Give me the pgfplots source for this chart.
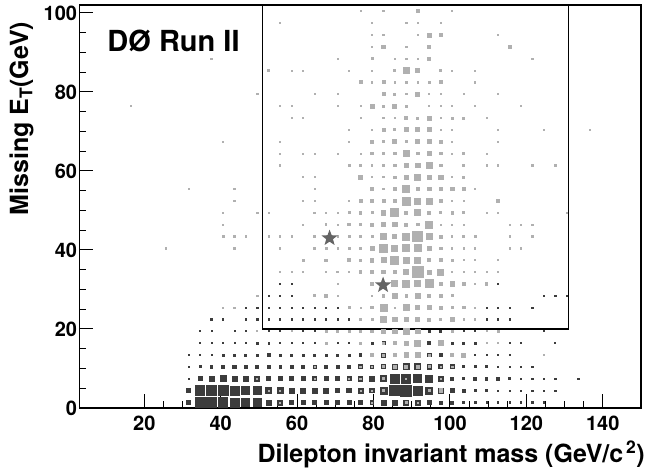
\documentclass[border=0pt]{standalone}
\usepackage{fontspec}
\setmainfont{TeX Gyre Heros}
\usepackage{pgfplots}
\usepackage{pgfplotstable}
\pgfplotsset{compat=1.18}

\definecolor{dk}{RGB}{60,60,60}
\definecolor{lt}{RGB}{176,176,176}
\definecolor{st}{RGB}{100,100,100}

% filled five-point star
\pgfdeclareplotmark{fstar}{%
  \pgfpathmoveto{\pgfpointpolar{90}{\pgfplotmarksize}}%
  \pgfpathlineto{\pgfpointpolar{126}{0.42\pgfplotmarksize}}%
  \pgfpathlineto{\pgfpointpolar{162}{\pgfplotmarksize}}%
  \pgfpathlineto{\pgfpointpolar{198}{0.42\pgfplotmarksize}}%
  \pgfpathlineto{\pgfpointpolar{234}{\pgfplotmarksize}}%
  \pgfpathlineto{\pgfpointpolar{270}{0.42\pgfplotmarksize}}%
  \pgfpathlineto{\pgfpointpolar{306}{\pgfplotmarksize}}%
  \pgfpathlineto{\pgfpointpolar{342}{0.42\pgfplotmarksize}}%
  \pgfpathlineto{\pgfpointpolar{18}{\pgfplotmarksize}}%
  \pgfpathlineto{\pgfpointpolar{54}{0.42\pgfplotmarksize}}%
  \pgfpathclose\pgfusepathqfill}

% black histogram: bin centre x, y and box side s
\pgfplotstableread{
x y s
31.5 1.5 4.5
34.5 1.5 10
37.5 1.5 10
40.5 1.5 9.5
43.5 1.5 9
46.5 1.5 8
49.5 1.5 8
52.5 1.5 5
55.5 1.5 5
58.5 1.5 4
61.5 1.5 4
64.5 1.5 4.5
67.5 1.5 4
70.5 1.5 3.5
73.5 1.5 4
76.5 1.5 4
79.5 1.5 3.5
82.5 1.5 5
85.5 1.5 5
88.5 1.5 5
91.5 1.5 5
94.5 1.5 4.5
97.5 1.5 3
100.5 1.5 3
103.5 1.5 2
106.5 1.5 2
109.5 1.5 1.2
112.5 1.5 1.2
115.5 1.5 1.2
118.5 1.5 1.2
121.5 1.5 1.2
124.5 1.5 1.2
31.5 4.5 4
34.5 4.5 9.5
37.5 4.5 10
40.5 4.5 10
43.5 4.5 9
46.5 4.5 8
49.5 4.5 7.5
52.5 4.5 6
55.5 4.5 5.5
58.5 4.5 5
61.5 4.5 5
64.5 4.5 5
67.5 4.5 5
70.5 4.5 4.5
73.5 4.5 4.5
76.5 4.5 5
79.5 4.5 4.5
82.5 4.5 7
85.5 4.5 10
88.5 4.5 11
91.5 4.5 9
94.5 4.5 7
97.5 4.5 5
100.5 4.5 3.5
103.5 4.5 3
106.5 4.5 2
109.5 4.5 2
112.5 4.5 1.2
115.5 4.5 1.2
118.5 4.5 1.2
121.5 4.5 1.2
124.5 4.5 1.2
127.5 4.5 1.2
31.5 7.5 1.2
34.5 7.5 4
37.5 7.5 5
40.5 7.5 6
43.5 7.5 5
46.5 7.5 5
49.5 7.5 5
52.5 7.5 4
55.5 7.5 4
58.5 7.5 4
61.5 7.5 4
64.5 7.5 4
67.5 7.5 4
70.5 7.5 4
73.5 7.5 4
76.5 7.5 4.5
79.5 7.5 5.5
82.5 7.5 6
85.5 7.5 9
88.5 7.5 9
91.5 7.5 8
94.5 7.5 7
97.5 7.5 5
100.5 7.5 3
103.5 7.5 2
106.5 7.5 2.5
109.5 7.5 2.5
112.5 7.5 2.5
115.5 7.5 2
118.5 7.5 1.2
121.5 7.5 1.2
124.5 7.5 1.2
127.5 7.5 1.2
133.5 7.5 1.2
31.5 10.5 1.2
34.5 10.5 2
37.5 10.5 2.5
40.5 10.5 3
43.5 10.5 3.5
46.5 10.5 3
49.5 10.5 3
52.5 10.5 3
55.5 10.5 2.5
58.5 10.5 2.5
61.5 10.5 3
64.5 10.5 3
67.5 10.5 3
70.5 10.5 3
73.5 10.5 3
76.5 10.5 4
79.5 10.5 3.5
82.5 10.5 4
85.5 10.5 5
88.5 10.5 6
91.5 10.5 6
94.5 10.5 4.5
97.5 10.5 4
100.5 10.5 4
103.5 10.5 2
106.5 10.5 2
109.5 10.5 2
112.5 10.5 1.2
115.5 10.5 1.2
118.5 10.5 1.2
121.5 10.5 1.2
31.5 13.5 1
34.5 13.5 1
37.5 13.5 1
40.5 13.5 2
43.5 13.5 2
46.5 13.5 2
49.5 13.5 2
52.5 13.5 2.5
55.5 13.5 2
58.5 13.5 2
61.5 13.5 2
64.5 13.5 2
67.5 13.5 2
70.5 13.5 2
73.5 13.5 2
76.5 13.5 2.5
82.5 13.5 4
85.5 13.5 3
94.5 13.5 3.5
97.5 13.5 2.5
103.5 13.5 1.2
106.5 13.5 1.2
109.5 13.5 1.2
112.5 13.5 1.2
115.5 13.5 1.2
34.5 16.5 1
37.5 16.5 1
40.5 16.5 1
43.5 16.5 1
46.5 16.5 1
49.5 16.5 2
52.5 16.5 1.5
55.5 16.5 1
58.5 16.5 1
61.5 16.5 1
64.5 16.5 1
70.5 16.5 1
73.5 16.5 1
76.5 16.5 1.2
79.5 16.5 2
82.5 16.5 3
94.5 16.5 3
100.5 16.5 2.5
103.5 16.5 2
106.5 16.5 2
115.5 16.5 1
118.5 16.5 1
127.5 16.5 1
34.5 19.5 1
37.5 19.5 1
43.5 19.5 1
46.5 19.5 1
52.5 19.5 1
55.5 19.5 1
61.5 19.5 1
64.5 19.5 1
76.5 19.5 1
94.5 19.5 2
97.5 19.5 2
103.5 19.5 1
106.5 19.5 1
124.5 19.5 1
37.5 22.5 1.2
40.5 22.5 1.2
46.5 22.5 1.2
49.5 22.5 1.2
52.5 22.5 1.2
55.5 22.5 1.2
58.5 22.5 1.2
61.5 22.5 1.2
64.5 22.5 1.2
67.5 22.5 1.2
70.5 22.5 1.2
73.5 22.5 1.2
109.5 22.5 1.2
112.5 22.5 1.2
115.5 22.5 1.2
46.5 25.5 1.2
49.5 25.5 1.2
52.5 25.5 1.2
55.5 25.5 1.2
58.5 25.5 1.2
61.5 25.5 1.2
64.5 25.5 1.2
67.5 25.5 1.2
70.5 25.5 1.2
109.5 25.5 1.2
112.5 25.5 1.2
115.5 25.5 1.2
121.5 25.5 1.2
52.5 28.5 1.2
55.5 28.5 1.2
58.5 28.5 1.2
124.5 28.5 1.2
127.5 28.5 1.2
130.5 28.5 1.2
55.5 31.5 1.2
58.5 31.5 1.2
112.5 31.5 1.2
}\blk

% grey histogram
\pgfplotstableread{
x y s
55.5 1.5 1
79.5 1.5 1
88.5 1.5 1.5
91.5 1.5 1
52.5 4.5 1
55.5 4.5 1
76.5 4.5 1
79.5 4.5 1
82.5 4.5 1.5
94.5 4.5 1.5
97.5 4.5 3.5
49.5 7.5 1
64.5 7.5 1
73.5 7.5 1
76.5 7.5 1.5
82.5 7.5 2
88.5 7.5 1
97.5 7.5 1
64.5 10.5 1
76.5 10.5 1.5
79.5 10.5 1.5
82.5 10.5 2
85.5 10.5 2.5
88.5 10.5 3
91.5 10.5 3
94.5 10.5 2
97.5 10.5 1.5
100.5 10.5 1.5
79.5 13.5 3.5
82.5 13.5 2
85.5 13.5 3.5
88.5 13.5 4.5
91.5 13.5 4.5
94.5 13.5 2
100.5 13.5 3
103.5 13.5 4
124.5 13.5 1
67.5 16.5 2
76.5 16.5 2
82.5 16.5 2
85.5 16.5 3
88.5 16.5 3.5
91.5 16.5 6
97.5 16.5 5
109.5 16.5 1
112.5 16.5 1
49.5 19.5 1
58.5 19.5 1
67.5 19.5 2
70.5 19.5 2
73.5 19.5 2
76.5 19.5 2
79.5 19.5 2.5
82.5 19.5 4.5
85.5 19.5 4.5
88.5 19.5 6
91.5 19.5 4.5
100.5 19.5 2
109.5 19.5 1
112.5 19.5 2
76.5 22.5 2
79.5 22.5 2
82.5 22.5 5.5
85.5 22.5 4.5
88.5 22.5 4.5
91.5 22.5 4
94.5 22.5 3
97.5 22.5 2
100.5 22.5 4
103.5 22.5 1.2
106.5 22.5 1.2
40.5 25.5 1.2
43.5 25.5 1.2
73.5 25.5 2
76.5 25.5 1.2
79.5 25.5 2.5
82.5 25.5 7
85.5 25.5 1.2
88.5 25.5 6
91.5 25.5 4
94.5 25.5 3.5
97.5 25.5 3
100.5 25.5 2
103.5 25.5 2.5
106.5 25.5 1.2
49.5 28.5 1.2
64.5 28.5 2
67.5 28.5 2.5
70.5 28.5 1.2
79.5 28.5 1.2
82.5 28.5 2.5
85.5 28.5 4.5
88.5 28.5 2.5
91.5 28.5 5
94.5 28.5 3
97.5 28.5 3
100.5 28.5 2
70.5 31.5 1.2
79.5 31.5 3
85.5 31.5 6
88.5 31.5 7
91.5 31.5 6
94.5 31.5 8
97.5 31.5 2.5
100.5 31.5 4.5
103.5 31.5 2.5
106.5 31.5 1.2
109.5 31.5 2.5
55.5 34.5 1.2
58.5 34.5 1.2
61.5 34.5 1.2
67.5 34.5 1.5
70.5 34.5 1.5
73.5 34.5 1.2
76.5 34.5 2.5
79.5 34.5 3.5
82.5 34.5 3.5
85.5 34.5 3
88.5 34.5 5
91.5 34.5 11
94.5 34.5 4
97.5 34.5 6
100.5 34.5 1.2
103.5 34.5 1.2
106.5 34.5 1.2
109.5 34.5 1.2
112.5 34.5 1.2
61.5 37.5 2
67.5 37.5 2.5
73.5 37.5 3
76.5 37.5 2.5
79.5 37.5 3.5
82.5 37.5 5
85.5 37.5 8
88.5 37.5 6
91.5 37.5 6
94.5 37.5 3
97.5 37.5 3
100.5 37.5 2.5
103.5 37.5 1.2
106.5 37.5 1.2
112.5 37.5 1.2
25.5 40.5 1.2
43.5 40.5 1.2
55.5 40.5 1.2
64.5 40.5 2
67.5 40.5 2
70.5 40.5 1.2
73.5 40.5 2
76.5 40.5 2
79.5 40.5 4
82.5 40.5 8
85.5 40.5 6
88.5 40.5 7
91.5 40.5 7
94.5 40.5 4
97.5 40.5 2.5
100.5 40.5 1.2
103.5 40.5 1.2
106.5 40.5 1.5
115.5 40.5 1.2
118.5 40.5 1.2
40.5 43.5 2
43.5 43.5 2
46.5 43.5 1.2
52.5 43.5 1.2
55.5 43.5 1.2
58.5 43.5 1.2
64.5 43.5 2
70.5 43.5 1.2
73.5 43.5 2
76.5 43.5 2.5
79.5 43.5 2
82.5 43.5 6
85.5 43.5 4
88.5 43.5 7
91.5 43.5 10
94.5 43.5 6
97.5 43.5 3
100.5 43.5 1.2
103.5 43.5 2
106.5 43.5 2
115.5 43.5 1.2
121.5 43.5 1.2
40.5 46.5 1.2
61.5 46.5 1.2
67.5 46.5 1.5
70.5 46.5 1.2
73.5 46.5 2.5
76.5 46.5 2
79.5 46.5 3
82.5 46.5 3.5
85.5 46.5 4.5
88.5 46.5 3
91.5 46.5 2.5
94.5 46.5 7
97.5 46.5 1.2
100.5 46.5 1.2
103.5 46.5 1.2
115.5 46.5 1.2
118.5 46.5 1.2
121.5 46.5 1.2
40.5 49.5 1.2
49.5 49.5 1.2
52.5 49.5 1.2
64.5 49.5 1.5
67.5 49.5 1.5
70.5 49.5 1.2
73.5 49.5 2
76.5 49.5 2.5
79.5 49.5 2
82.5 49.5 4.5
85.5 49.5 8
88.5 49.5 3
91.5 49.5 6
94.5 49.5 3
97.5 49.5 2
100.5 49.5 2.5
103.5 49.5 2
109.5 49.5 1.2
112.5 49.5 1.2
130.5 49.5 1.2
43.5 52.5 1.2
61.5 52.5 1.2
64.5 52.5 1.2
73.5 52.5 1.2
76.5 52.5 3
79.5 52.5 2.5
82.5 52.5 3
85.5 52.5 3
88.5 52.5 8
91.5 52.5 6
94.5 52.5 6
97.5 52.5 3
100.5 52.5 1.2
103.5 52.5 1.2
112.5 52.5 2.5
31.5 55.5 1.2
43.5 55.5 1.2
64.5 55.5 1.2
79.5 55.5 3.5
82.5 55.5 1.2
85.5 55.5 2.5
88.5 55.5 7
91.5 55.5 2.5
94.5 55.5 3.5
97.5 55.5 3.5
100.5 55.5 3.5
103.5 55.5 3
106.5 55.5 1.2
61.5 58.5 1.2
64.5 58.5 1.2
76.5 58.5 3.5
79.5 58.5 1.2
82.5 58.5 1.2
85.5 58.5 2.5
88.5 58.5 4.5
91.5 58.5 6
94.5 58.5 4.5
97.5 58.5 4.5
100.5 58.5 1.2
103.5 58.5 2
55.5 61.5 1.2
73.5 61.5 2
76.5 61.5 2.5
79.5 61.5 1.2
82.5 61.5 1.2
85.5 61.5 2.5
88.5 61.5 4
91.5 61.5 4.5
94.5 61.5 5.5
97.5 61.5 2.5
103.5 61.5 2
109.5 61.5 1.2
112.5 61.5 1.2
121.5 61.5 1.2
127.5 61.5 1.2
55.5 64.5 1.2
61.5 64.5 1.2
64.5 64.5 1.2
70.5 64.5 1.2
76.5 64.5 1.2
79.5 64.5 2.5
82.5 64.5 2.5
85.5 64.5 2.5
88.5 64.5 6
91.5 64.5 2.5
94.5 64.5 3.5
97.5 64.5 2.5
100.5 64.5 1.2
103.5 64.5 2
109.5 64.5 1.2
40.5 67.5 1.2
55.5 67.5 1.2
73.5 67.5 1.2
79.5 67.5 3
82.5 67.5 2
85.5 67.5 4
88.5 67.5 2
91.5 67.5 4
94.5 67.5 4
97.5 67.5 3
100.5 67.5 1.2
112.5 67.5 1.2
73.5 70.5 1.2
79.5 70.5 1.2
82.5 70.5 3
85.5 70.5 2
88.5 70.5 4
91.5 70.5 4
94.5 70.5 4
97.5 70.5 1.2
100.5 70.5 1.2
112.5 70.5 1.2
124.5 70.5 1.2
136.5 70.5 1.2
58.5 73.5 1.2
61.5 73.5 1.2
76.5 73.5 1.2
82.5 73.5 1.2
85.5 73.5 1.2
88.5 73.5 3
91.5 73.5 2
94.5 73.5 4
97.5 73.5 1.2
100.5 73.5 2
103.5 73.5 2
109.5 73.5 1.2
16.5 76.5 1.2
55.5 76.5 1.2
58.5 76.5 1.2
70.5 76.5 1.2
76.5 76.5 1.2
79.5 76.5 4
82.5 76.5 2
85.5 76.5 4
88.5 76.5 2
94.5 76.5 1.2
97.5 76.5 1.2
100.5 76.5 1.2
106.5 76.5 1.2
118.5 76.5 1.2
49.5 79.5 1.2
64.5 79.5 1.2
70.5 79.5 1.2
82.5 79.5 3
85.5 79.5 2
88.5 79.5 1.2
91.5 79.5 4
94.5 79.5 1.2
97.5 79.5 1.2
103.5 79.5 1.2
112.5 79.5 1.2
76.5 82.5 3
79.5 82.5 1.2
82.5 82.5 3
85.5 82.5 1.2
88.5 82.5 1.2
91.5 82.5 1.2
94.5 82.5 2
97.5 82.5 3
106.5 82.5 1.2
52.5 85.5 2
58.5 85.5 1.2
61.5 85.5 1.2
73.5 85.5 1.2
79.5 85.5 1.2
85.5 85.5 2
88.5 85.5 6
91.5 85.5 4
97.5 85.5 2
100.5 85.5 1.2
106.5 85.5 1.2
37.5 88.5 1.2
70.5 88.5 1.2
79.5 88.5 2
85.5 88.5 1.2
88.5 88.5 1.2
91.5 88.5 1.2
94.5 88.5 3
121.5 88.5 1.2
79.5 91.5 1.2
82.5 91.5 3.5
88.5 91.5 1.2
94.5 91.5 3
115.5 91.5 3
79.5 94.5 1.2
82.5 94.5 1.2
91.5 94.5 1.2
94.5 94.5 4
97.5 94.5 3
112.5 94.5 1.2
55.5 97.5 1.2
79.5 97.5 1.2
88.5 97.5 1.2
91.5 97.5 1.2
97.5 97.5 1.2
76.5 100.5 1.2
82.5 100.5 1.2
91.5 100.5 3
100.5 100.5 1.2
}\gry

\begin{document}
\begin{tikzpicture}
\begin{axis}[
  scale only axis,
  width=561.7pt, height=403pt,
  xmin=3, xmax=150, ymin=0, ymax=102,
  xtick={20,40,...,140}, ytick={0,20,...,100},
  minor x tick num=3, minor y tick num=3,
  tick align=inside, xtick pos=bottom, ytick pos=left,
  major tick length=14pt, minor tick length=7pt,
  every tick/.style={black, line width=1pt},
  axis line style={black, line width=1.2pt},
  /pgf/number format/assume math mode=true,
  ticklabel style={font=\fontsize{20}{22}\selectfont\bfseries},
  yticklabel style={inner sep=0pt, xshift=-2pt},
  xticklabel style={inner sep=0pt, yshift=-8pt},
  xlabel={Dilepton invariant mass (GeV/c\textsuperscript{\,2})},
  ylabel={Missing E\textsubscript{T}(GeV)},
  label style={font=\fontsize{25}{27}\selectfont\bfseries, inner sep=0pt},
  xlabel style={at={(axis description cs:1.0071,-0.1347)}, anchor=base east},
  ylabel style={at={(axis description cs:-0.1029,0.9586)}, anchor=east},
]
\addplot[scatter, only marks, mark=square*,
  scatter/use mapped color={draw=dk, fill=dk, line width=0.1pt},
  visualization depends on={\thisrow{s} \as \side},
  scatter/@pre marker code/.append style={/tikz/mark size=0.5*\side}]
  table[x=x, y=y] {\blk};
\addplot[scatter, only marks, mark=square*,
  scatter/use mapped color={draw=lt, fill=lt, line width=0.1pt},
  visualization depends on={\thisrow{s} \as \side},
  scatter/@pre marker code/.append style={/tikz/mark size=0.5*\side}]
  table[x=x, y=y] {\gry};
% signal region
\addplot[black, line width=1.2pt, mark=none]
  coordinates {(51,102) (51,20) (131,20) (131,102)};
% candidate events
\addplot[only marks, mark=fstar, mark size=8.5pt, color=st, fill=st]
  coordinates {(68.5,43.0) (82.5,31.1)};
\node[anchor=base west, inner sep=0pt, font=\fontsize{29}{31}\selectfont\bfseries]
  at (axis description cs:0.0498,0.8841) {DØ Run II};
\end{axis}
\pgfresetboundingbox
\useasboundingbox ([shift={(-79.3pt,-62pt)}]current axis.south west)
  rectangle ([shift={(6pt,5pt)}]current axis.north east);
\end{tikzpicture}
\end{document}
